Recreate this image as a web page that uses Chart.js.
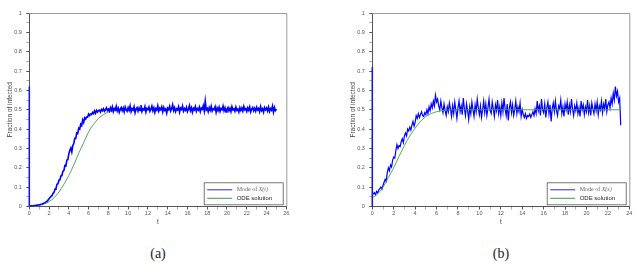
<!DOCTYPE html>
<html>
<head>
<meta charset="utf-8">
<title>Fraction of infected</title>
<script src="https://cdn.jsdelivr.net/npm/chart.js@4.4.1/dist/chart.umd.min.js"></script>
<style>
    html, body { margin: 0; padding: 0; background: #fff; }
    #page { position: relative; width: 636px; height: 265px; overflow: hidden; }
    .panel { position: absolute; top: 0; }
    #panelA { left: 0; }
    #panelB { left: 343px; }
    .caption { position: absolute; top: 245px; line-height: 18px; font-family: 'Liberation Serif', serif; font-size: 14px; color: #222; transform: translateX(-50%); }
</style>
</head>
<body>
<div id="page">
    <div class="panel" id="panelA"><canvas id="chartA" width="318" height="232"></canvas></div>
    <div class="panel" id="panelB"><canvas id="chartB" width="293" height="232"></canvas></div>
    <div class="caption" style="left:158px">(a)</div>
    <div class="caption" style="left:501px">(b)</div>
</div>

<script>
// ---- datos (a): moda de X(t), muestreada cada 0.1 desde t = 0 hasta t = 25
const stepA = 0.1;
const spikeA = 0.62;   // salto vertical en t = 0
const modeA = [
    0.0,
    0.002, 0.003, 0.003, 0.004, 0.005, 0.005, 0.006, 0.007, 0.008, 0.009,
    0.010, 0.012, 0.013, 0.015, 0.018, 0.020, 0.024, 0.028, 0.033, 0.040,
    0.046, 0.052, 0.056, 0.068, 0.072, 0.090, 0.094, 0.115, 0.118, 0.136,
    0.138, 0.158, 0.160, 0.182, 0.186, 0.212, 0.210, 0.240, 0.242, 0.272,
    0.290, 0.302, 0.282, 0.315, 0.325, 0.352, 0.352, 0.380, 0.378, 0.405,
    0.400, 0.425, 0.418, 0.447, 0.434, 0.458, 0.452, 0.462, 0.462, 0.478,
    0.470, 0.478, 0.476, 0.486, 0.480, 0.494, 0.482, 0.497, 0.488, 0.496,
    0.498, 0.488, 0.502, 0.495, 0.505, 0.492, 0.500, 0.510, 0.496, 0.503,
    0.492, 0.510, 0.497, 0.515, 0.490, 0.506, 0.499, 0.518, 0.494, 0.508,
    0.487, 0.503, 0.512, 0.495, 0.509, 0.489, 0.514, 0.500, 0.492, 0.511,
    0.497, 0.520, 0.490, 0.506, 0.498, 0.516, 0.485, 0.504, 0.511, 0.493,
    0.509, 0.496, 0.524, 0.491, 0.505, 0.499, 0.517, 0.488, 0.507, 0.501,
    0.514, 0.492, 0.503, 0.519, 0.495, 0.510, 0.486, 0.506, 0.498, 0.521,
    0.493, 0.508, 0.500, 0.515, 0.489, 0.512, 0.497, 0.504, 0.482, 0.509,
    0.501, 0.518, 0.494, 0.507, 0.526, 0.496, 0.511, 0.490, 0.505, 0.499,
    0.516, 0.488, 0.509, 0.502, 0.520, 0.493, 0.506, 0.497, 0.513, 0.491,
    0.504, 0.522, 0.495, 0.510, 0.487, 0.508, 0.500, 0.517, 0.492, 0.506,
    0.498, 0.514, 0.490, 0.509, 0.503, 0.521, 0.494, 0.545, 0.499, 0.507,
    0.489, 0.511, 0.497, 0.518, 0.493, 0.505, 0.501, 0.516, 0.486, 0.509,
    0.496, 0.513, 0.491, 0.507, 0.500, 0.519, 0.494, 0.510, 0.488, 0.504,
    0.512, 0.495, 0.508, 0.490, 0.516, 0.499, 0.505, 0.492, 0.514, 0.497,
    0.503, 0.488, 0.511, 0.496, 0.509, 0.493, 0.518, 0.500, 0.506, 0.491,
    0.510, 0.497, 0.515, 0.489, 0.504, 0.512, 0.495, 0.508, 0.493, 0.513,
    0.499, 0.507, 0.490, 0.516, 0.496, 0.505, 0.487, 0.511, 0.500, 0.509,
    0.494, 0.514, 0.491, 0.506, 0.498, 0.519, 0.488, 0.512, 0.495, 0.503
];
// solucion ODE (a)
const odeTimeA = [0, 1, 2, 2.5, 3, 3.5, 4, 4.5, 5, 5.5, 6, 6.5, 7, 7.5, 8, 8.5, 9, 10, 12, 25];
const odeA = [0, 0.005, 0.025, 0.045, 0.075, 0.115, 0.16, 0.215, 0.275, 0.33, 0.385, 0.425, 0.455, 0.475, 0.488, 0.494, 0.497, 0.499, 0.5, 0.5];

// ---- datos (b): moda de X(s), muestreada cada 0.1 desde s = 0 hasta s = 23.2
const stepB = 0.1;
const spikeB = 0.72;
const modeB = [
    0.062,
    0.065, 0.072, 0.060, 0.078, 0.070, 0.085, 0.092, 0.100, 0.090, 0.110,
    0.125, 0.140, 0.130, 0.175, 0.200, 0.185, 0.215, 0.205, 0.240, 0.255,
    0.250, 0.290, 0.320, 0.300, 0.315, 0.310, 0.335, 0.350, 0.330, 0.365,
    0.380, 0.365, 0.400, 0.390, 0.410, 0.395, 0.420, 0.440, 0.415, 0.435,
    0.470, 0.455, 0.480, 0.460, 0.475, 0.490, 0.470, 0.465, 0.485, 0.475,
    0.500, 0.480, 0.515, 0.495, 0.530, 0.510, 0.545, 0.520, 0.575, 0.540,
    0.555, 0.520, 0.500, 0.545, 0.510, 0.485, 0.530, 0.495, 0.470, 0.515,
    0.490, 0.535, 0.505, 0.465, 0.520, 0.480, 0.540, 0.500, 0.455, 0.510,
    0.545, 0.490, 0.520, 0.475, 0.560, 0.505, 0.470, 0.530, 0.495, 0.450,
    0.515, 0.480, 0.540, 0.500, 0.465, 0.525, 0.490, 0.555, 0.510, 0.475,
    0.520, 0.460, 0.500, 0.545, 0.485, 0.530, 0.470, 0.510, 0.555, 0.495,
    0.480, 0.540, 0.505, 0.465, 0.525, 0.495, 0.550, 0.480, 0.515, 0.470,
    0.535, 0.490, 0.560, 0.505, 0.470, 0.530, 0.445, 0.510, 0.540, 0.485,
    0.525, 0.470, 0.500, 0.545, 0.480, 0.515, 0.490, 0.535, 0.465, 0.500,
    0.475, 0.460, 0.480, 0.455, 0.470, 0.465, 0.478, 0.460, 0.475, 0.490,
    0.470, 0.505, 0.480, 0.545, 0.495, 0.520, 0.470, 0.555, 0.500, 0.485,
    0.530, 0.460, 0.510, 0.540, 0.480, 0.525, 0.440, 0.505, 0.535, 0.490,
    0.545, 0.495, 0.470, 0.520, 0.505, 0.550, 0.480, 0.515, 0.465, 0.530,
    0.500, 0.540, 0.475, 0.525, 0.490, 0.555, 0.505, 0.470, 0.520, 0.495,
    0.535, 0.480, 0.510, 0.465, 0.545, 0.500, 0.525, 0.475, 0.515, 0.490,
    0.550, 0.485, 0.520, 0.470, 0.535, 0.505, 0.480, 0.530, 0.495, 0.540,
    0.475, 0.520, 0.500, 0.545, 0.485, 0.530, 0.505, 0.555, 0.490, 0.525,
    0.540, 0.510, 0.560, 0.530, 0.585, 0.550, 0.620, 0.570, 0.595, 0.540,
    0.560, 0.420
];
// solucion ODE (b)
const odeTimeB = [0, 0.5, 1, 1.5, 2, 2.5, 3, 3.5, 4, 4.5, 5, 5.5, 6, 6.5, 7, 8, 10, 23.2];
const odeB = [0.045, 0.065, 0.1, 0.15, 0.2, 0.26, 0.315, 0.365, 0.405, 0.44, 0.465, 0.48, 0.49, 0.495, 0.498, 0.5, 0.5, 0.5];

const labelsA = ['Mode of ', 'X(t)', 'ODE solution'];
const labelsB = ['Mode of ', 'X(s)', 'ODE solution'];

const BLUE = '#0000ff';
const GREEN = '#3f9f45';
const SANS = "'Liberation Sans', Arial, sans-serif";
const SERIF = "'Liberation Serif', 'Times New Roman', serif";

// Marco gris arriba y a la derecha
const framePlugin = {
    id: 'frame',
    afterDraw: (chart) =>
    {
        const { ctx, chartArea } = chart;
        ctx.save();
        ctx.strokeStyle = '#9a9a9a';
        ctx.lineWidth = 1;
        ctx.beginPath();
        ctx.moveTo(chartArea.left, chartArea.top + 0.5);
        ctx.lineTo(chartArea.right + 0.5, chartArea.top + 0.5);
        ctx.lineTo(chartArea.right + 0.5, chartArea.bottom);
        ctx.stroke();
        ctx.restore();
    }
};

// Leyenda en la esquina inferior derecha
const boxLegendPlugin = {
    id: 'boxLegend',
    afterDraw: (chart, args, opts) =>
    {
        const { ctx, chartArea } = chart;
        const w = 80, h = 23;
        const x = chartArea.right - 2.6 - w;
        const y = chartArea.bottom - 1.2 - h;

        ctx.save();
        ctx.fillStyle = '#fff';
        ctx.fillRect(x, y, w, h);
        ctx.strokeStyle = '#555';
        ctx.lineWidth = 0.8;
        ctx.strokeRect(x + 0.5, y + 0.5, w - 1, h - 1);

        // muestras de linea
        ctx.lineWidth = 1;
        ctx.strokeStyle = '#2a2ad0';
        ctx.beginPath();
        ctx.moveTo(x + 3.5, y + 7.5);
        ctx.lineTo(x + 28.5, y + 7.5);
        ctx.stroke();
        ctx.strokeStyle = GREEN;
        ctx.beginPath();
        ctx.moveTo(x + 3.5, y + 16);
        ctx.lineTo(x + 28.5, y + 16);
        ctx.stroke();

        // textos
        ctx.textBaseline = 'middle';
        ctx.textAlign = 'left';
        ctx.fillStyle = '#666';
        ctx.font = '6px ' + SERIF;
        ctx.fillText(opts.labels[0], x + 33, y + 7.5);
        const off = ctx.measureText(opts.labels[0]).width;
        ctx.font = 'italic 6px ' + SERIF;
        ctx.fillText(opts.labels[1], x + 33 + off, y + 7.5);
        ctx.fillStyle = '#222';
        ctx.font = '6px ' + SANS;
        ctx.fillText(opts.labels[2], x + 33, y + 16.5);
        ctx.restore();
    }
};

function buildScales(xMax)
{
    return {
        x: {
            type: 'linear',
            min: 0,
            max: xMax,
            ticks: {
                stepSize: 1,
                autoSkip: false,
                maxRotation: 0,
                padding: 1,
                color: '#555',
                font: { family: SANS, size: 5.5 },
                callback: (v) => (Math.round(v) % 2 === 0 ? String(Math.round(v)) : '')
            },
            grid: {
                drawOnChartArea: false,
                drawTicks: true,
                tickLength: 3,
                tickColor: (c) => (c.tick && Math.round(c.tick.value) % 2 ? '#aaa' : '#555')
            },
            border: { display: true, color: '#555', width: 1 },
            title: {
                display: true,
                text: 't',
                color: '#444',
                font: { family: SANS, size: 6.5 },
                padding: { top: 0, bottom: 6 }
            },
            afterFit: (scale) => { scale.height = 25.5; }
        },
        y: {
            type: 'linear',
            min: 0,
            max: 1,
            ticks: {
                stepSize: 0.05,
                autoSkip: false,
                padding: 4.5,
                color: '#555',
                font: { family: SANS, size: 5.5 },
                callback: (v) =>
                {
                    const k = Math.round(v * 20);
                    return k % 2 ? '' : String(k / 20);
                }
            },
            grid: {
                drawOnChartArea: false,
                drawTicks: true,
                tickLength: 3,
                tickColor: (c) => (c.tick && Math.round(c.tick.value * 20) % 2 ? '#aaa' : '#555')
            },
            border: { display: true, color: '#555', width: 1 },
            title: {
                display: true,
                text: 'Fraction of infected',
                color: '#444',
                font: { family: SANS, size: 6.5 },
                padding: { top: 6, bottom: 0 }
            },
            afterFit: (scale) => { scale.width = 29.3; }
        }
    };
}

function makeChart(canvasId, spike, mode, step, odeTime, ode, xMax, rightPad, labels, lineWidth, greenOnTop)
{
    const ctx = document.getElementById(canvasId).getContext('2d');
    return new Chart(ctx, {
        type: 'line',
        data: {
            datasets: [
                {
                    label: labels[0] + labels[1],
                    data: mode.map((v, i) => ({ x: i * step, y: v })),
                    borderColor: BLUE,
                    borderWidth: lineWidth,
                    pointRadius: 0,
                    tension: 0,
                    order: greenOnTop ? 2 : 1
                },
                {
                    // trazo vertical inicial en t = 0
                    label: 'spike',
                    data: [{ x: 0, y: 0 }, { x: 0, y: spike }],
                    borderColor: '#1a1ad8',
                    borderWidth: 1.6,
                    pointRadius: 0,
                    clip: false,
                    order: 0
                },
                {
                    label: labels[2],
                    data: odeTime.map((t, i) => ({ x: t, y: ode[i] })),
                    borderColor: GREEN,
                    borderWidth: 0.9,
                    pointRadius: 0,
                    cubicInterpolationMode: 'monotone',
                    order: greenOnTop ? 1 : 2
                }
            ]
        },
        options: {
            responsive: false,
            animation: false,
            layout: { padding: { left: 0, right: rightPad, top: 13, bottom: 0 } },
            scales: buildScales(xMax),
            plugins: {
                legend: { display: false },
                tooltip: { enabled: false },
                boxLegend: { labels: labels }
            }
        },
        plugins: [framePlugin, boxLegendPlugin]
    });
}

document.addEventListener('DOMContentLoaded', () =>
{
    makeChart('chartA', spikeA, modeA, stepA, odeTimeA, odeA, 26, 31.7, labelsA, 1.6, false);
    makeChart('chartB', spikeB, modeB, stepB, odeTimeB, odeB, 24, 6.7, labelsB, 1.2, true);
});
</script>
</body>
</html>
